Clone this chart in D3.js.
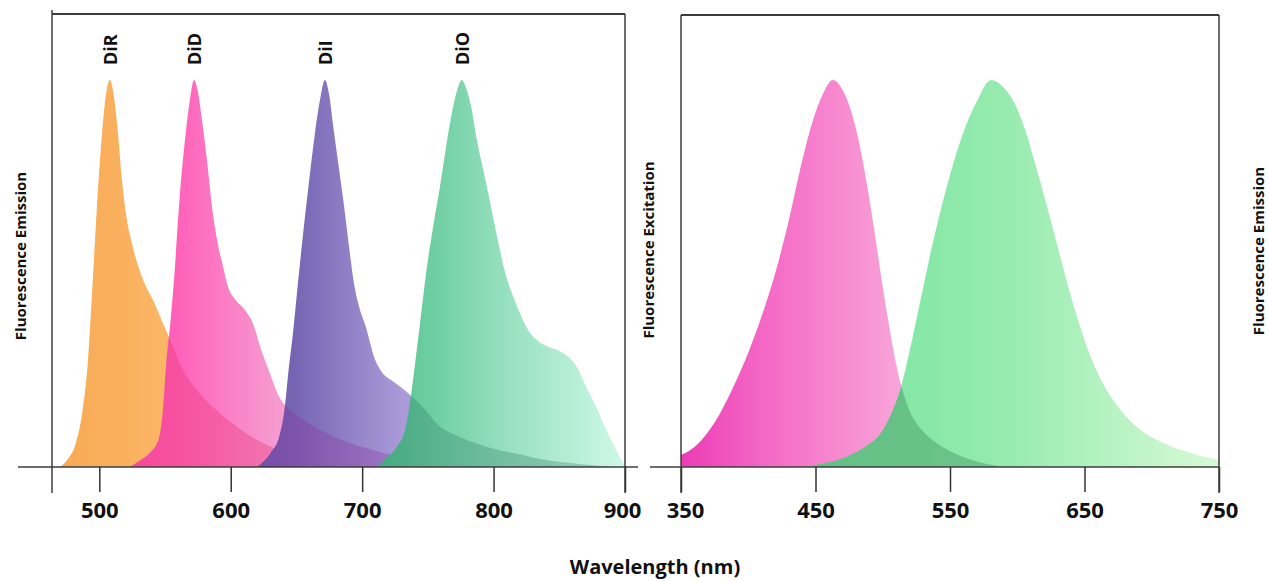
<!DOCTYPE html>
<html>
<head>
<meta charset="utf-8">
<script src="https://cdn.jsdelivr.net/npm/d3@7"></script>
<style>
  body { margin: 0; background: #fff; }
  text { font-family: "Open Sans", sans-serif; font-weight: 700; fill: #111; }
  .tick-label text { font-size: 22px; }
  .dye-label { font-size: 18px; }
  .y-title { font-size: 15px; }
  .x-title { font-size: 20px; }
</style>
</head>
<body>
<svg></svg>
<script>
// tick labels of the two panels
const leftTicks = [500, 600, 700, 800, 900];
const rightTicks = [350, 450, 550, 650, 750];

// emission spectra of the carbocyanine dyes: [wavelength nm, relative intensity]
const dyeNames = ["DiR", "DiD", "DiI", "DiO"];
const dirEmission = [[470, 0], [476, 0.02], [482, 0.06], [487, 0.14], [491, 0.26], [494.5, 0.45],
  [498, 0.66], [502, 0.86], [505, 0.96], [508, 1.0], [511, 0.96], [514, 0.87], [517, 0.75],
  [520.5, 0.65], [525, 0.575], [530, 0.515], [535, 0.47], [541, 0.43], [548, 0.375], [555, 0.32],
  [563, 0.255], [575, 0.195], [589, 0.147], [605, 0.103], [620, 0.07], [640, 0.039], [660, 0.018],
  [690, 0]];
const didEmission = [[523, 0], [530, 0.015], [538, 0.035], [545, 0.07], [548.5, 0.15], [551, 0.27],
  [554, 0.37], [557, 0.49], [561, 0.69], [566, 0.87], [569, 0.95], [572, 1.0], [575, 0.97],
  [578, 0.9], [582, 0.79], [586, 0.665], [590, 0.58], [594, 0.52], [598, 0.465], [604, 0.43],
  [611, 0.405], [617, 0.37], [623, 0.305], [630, 0.24], [637, 0.18], [644, 0.15], [652, 0.13],
  [668, 0.096], [688, 0.065], [708, 0.044], [729, 0.026], [745, 0.012], [770, 0]];
const diiEmission = [[620, 0], [630, 0.035], [637, 0.08], [641, 0.15], [644, 0.25], [647.5, 0.35],
  [651, 0.47], [655, 0.6], [659, 0.72], [664, 0.86], [668, 0.95], [671.6, 1.0], [675, 0.96],
  [678, 0.88], [682, 0.78], [686, 0.68], [690, 0.57], [694, 0.47], [698, 0.41], [703, 0.36],
  [709, 0.285], [715, 0.245], [722, 0.225], [730, 0.205], [737, 0.185], [746, 0.155], [759, 0.105],
  [774, 0.078], [795, 0.052], [815, 0.036], [840, 0.018], [865, 0.008], [890, 0]];
const dioEmission = [[712, 0], [718, 0.022], [726, 0.05], [733, 0.1], [737, 0.18], [740, 0.26],
  [744, 0.37], [749, 0.51], [754, 0.62], [759, 0.72], [764, 0.83], [768, 0.91], [772, 0.97],
  [775.8, 1.0], [779, 0.98], [783, 0.93], [787, 0.85], [792, 0.77], [797, 0.69], [803, 0.59],
  [809, 0.5], [815, 0.44], [821, 0.39], [827, 0.35], [834, 0.325], [842, 0.31], [850, 0.3],
  [857, 0.285], [864, 0.255], [870, 0.21], [876, 0.17], [882, 0.125], [888, 0.08], [894, 0.04],
  [898, 0.012], [900, 0]];

// right panel: excitation and emission
const excitationCurve = [[350, 0.031], [360, 0.052], [370, 0.09], [380, 0.145], [390, 0.215],
  [400, 0.295], [410, 0.39], [420, 0.5], [430, 0.635], [440, 0.79], [448, 0.895], [455, 0.96],
  [463, 1.0], [470, 0.975], [476, 0.925], [482, 0.845], [488, 0.735], [494, 0.605], [500, 0.465],
  [505, 0.36], [510, 0.265], [515, 0.195], [520, 0.145], [528, 0.1], [540, 0.062], [555, 0.033],
  [570, 0.014], [590, 0]];
const emissionCurve = [[440, 0], [460, 0.012], [475, 0.03], [488, 0.055], [498, 0.085], [506, 0.135],
  [513, 0.2], [520, 0.3], [528, 0.43], [536, 0.56], [545, 0.69], [553, 0.79], [561, 0.875],
  [570, 0.945], [580.5, 1.0], [590, 0.98], [598, 0.94], [606, 0.87], [614, 0.775], [622, 0.675],
  [630, 0.57], [638, 0.465], [646, 0.37], [654, 0.29], [663, 0.22], [675, 0.155], [690, 0.1],
  [710, 0.06], [730, 0.035], [750, 0.018]];

const width = 1268;
const height = 581;
const baseY = 467;
const peakY = 80;

const svg = d3.select("svg")
  .attr("width", width)
  .attr("height", height);
const defs = svg.append("defs");

// scales
const xL = d3.scaleLinear().domain([464, 900]).range([52, 625]);
const xR = d3.scaleLinear().domain([350, 750]).range([681, 1219]);
const y = d3.scaleLinear().domain([0, 1]).range([baseY, peakY]);

function addGradient(id, stops) {
  const g = defs.append("linearGradient")
    .attr("id", id)
    .attr("x1", 0).attr("x2", 1).attr("y1", 0).attr("y2", 0);
  stops.forEach(([o, c]) => g.append("stop").attr("offset", o).attr("stop-color", c));
}

addGradient("g-dir", [[0, "#f8aa55"], [0.35, "#fab565"], [1, "#fbc27a"]]);
addGradient("g-did", [[0, "#ff58b4"], [0.15, "#ff62ba"], [0.45, "#f69ad0"], [1, "#f2c2e2"]]);
addGradient("g-dii", [[0, "#6f5eae"], [0.1, "#7664b3"], [0.4, "#a999d7"], [1, "#cbc0ea"]]);
addGradient("g-dio", [[0, "#52c08e"], [0.13, "#62c99a"], [0.5, "#95dfbd"], [1, "#d0f9e8"]]);
addGradient("g-ex", [[0, "#ec3cb4"], [0.25, "#f467c5"], [0.55, "#f792d2"], [0.7, "#f8a8da"], [1, "#f8bce2"]]);
addGradient("g-em", [[0, "#7de4a0"], [0.3, "#88e8a8"], [0.5, "#98ebb0"], [0.75, "#b8f3c4"], [1, "#d6f9d6"]]);

const areaL = d3.area()
  .x(d => xL(d[0]))
  .y0(y(0))
  .y1(d => y(d[1]))
  .curve(d3.curveMonotoneX);

const areaR = d3.area()
  .x(d => xR(d[0]))
  .y0(y(0))
  .y1(d => y(d[1]))
  .curve(d3.curveMonotoneX);

// left panel: each dye on top of the previous one, overlap darkened
const leftSeries = [dirEmission, didEmission, diiEmission, dioEmission];
const leftFills = ["g-dir", "g-did", "g-dii", "g-dio"];
const overlapFills = [null, "#e8306f", "#8a2c98", "#2c7866"];
const overlapOpacity = [0, 0.35, 0.3, 0.32];

const gL = svg.append("g");
leftSeries.forEach((s, i) => {
  defs.append("clipPath").attr("id", "clip-l" + i)
    .append("path").attr("d", areaL(s));
  gL.append("path")
    .attr("d", areaL(s))
    .attr("fill", `url(#${leftFills[i]})`);
  if (i > 0) {
    gL.append("path")
      .attr("d", areaL(leftSeries[i - 1]))
      .attr("clip-path", `url(#clip-l${i})`)
      .attr("fill", overlapFills[i])
      .attr("opacity", overlapOpacity[i]);
  }
});

// right panel
const gR = svg.append("g");
defs.append("clipPath").attr("id", "clip-em")
  .append("path").attr("d", areaR(emissionCurve));
gR.append("path").attr("d", areaR(excitationCurve)).attr("fill", "url(#g-ex)");
gR.append("path").attr("d", areaR(emissionCurve)).attr("fill", "url(#g-em)");
gR.append("path")
  .attr("d", areaR(excitationCurve))
  .attr("clip-path", "url(#clip-em)")
  .attr("fill", "#3a8a58")
  .attr("opacity", 0.4);

// frames
function line(x1, y1, x2, y2, w) {
  svg.append("line")
    .attr("x1", x1).attr("y1", y1).attr("x2", x2).attr("y2", y2)
    .attr("stroke", "#3c3c3c").attr("stroke-width", w);
}
line(xL.range()[0], 10, xL.range()[0], 493, 1.5);
line(xL.range()[1], 14, xL.range()[1], 493, 1.5);
line(xL.range()[0], 14, xL.range()[1], 14, 2);
line(18, baseY, 638, baseY, 1.5);

line(xR.range()[0], 15, xR.range()[0], 493, 1.5);
line(xR.range()[1], 15, xR.range()[1], 493, 1.5);
line(xR.range()[0], 15, xR.range()[1], 15, 2);
line(650, baseY, xR.range()[1], baseY, 1.5);

// axes
function styleAxis(g) {
  g.attr("font-size", null).attr("font-family", null).attr("class", "tick-label");
  g.select(".domain").remove();
  g.selectAll(".tick line").attr("stroke", "#333").attr("stroke-width", 1.5);
}

const axisL = svg.append("g")
  .attr("transform", `translate(0,${baseY})`)
  .call(d3.axisBottom(xL).tickValues(leftTicks).tickSize(25).tickPadding(10).tickFormat(d3.format("d")))
  .call(styleAxis);
axisL.selectAll(".tick text").filter(d => d === 900).attr("dx", -3);

const axisR = svg.append("g")
  .attr("transform", `translate(0,${baseY})`)
  .call(d3.axisBottom(xR).tickValues(rightTicks).tickSize(25).tickPadding(10).tickFormat(d3.format("d")))
  .call(styleAxis);
axisR.selectAll(".tick text").filter(d => d === 350).attr("dx", 4);

// dye labels above the peaks
leftSeries.forEach((s, i) => {
  const peak = s.reduce((a, b) => (b[1] > a[1] ? b : a));
  svg.append("text")
    .attr("class", "dye-label")
    .attr("transform", `translate(${xL(peak[0])}, 65) rotate(-90)`)
    .attr("dominant-baseline", "central")
    .text(dyeNames[i]);
});

// titles
svg.append("text")
  .attr("class", "y-title")
  .attr("transform", "translate(20, 256) rotate(-90)")
  .attr("text-anchor", "middle")
  .attr("dominant-baseline", "central")
  .text("Fluorescence Emission");

svg.append("text")
  .attr("class", "y-title")
  .attr("transform", "translate(648, 250) rotate(-90)")
  .attr("text-anchor", "middle")
  .attr("dominant-baseline", "central")
  .text("Fluorescence Excitation");

svg.append("text")
  .attr("class", "y-title")
  .attr("transform", "translate(1258, 251) rotate(-90)")
  .attr("text-anchor", "middle")
  .attr("dominant-baseline", "central")
  .text("Fluorescence Emission");

svg.append("text")
  .attr("class", "x-title")
  .attr("x", 655)
  .attr("y", 574)
  .attr("text-anchor", "middle")
  .text("Wavelength (nm)");
</script>
</body>
</html>
